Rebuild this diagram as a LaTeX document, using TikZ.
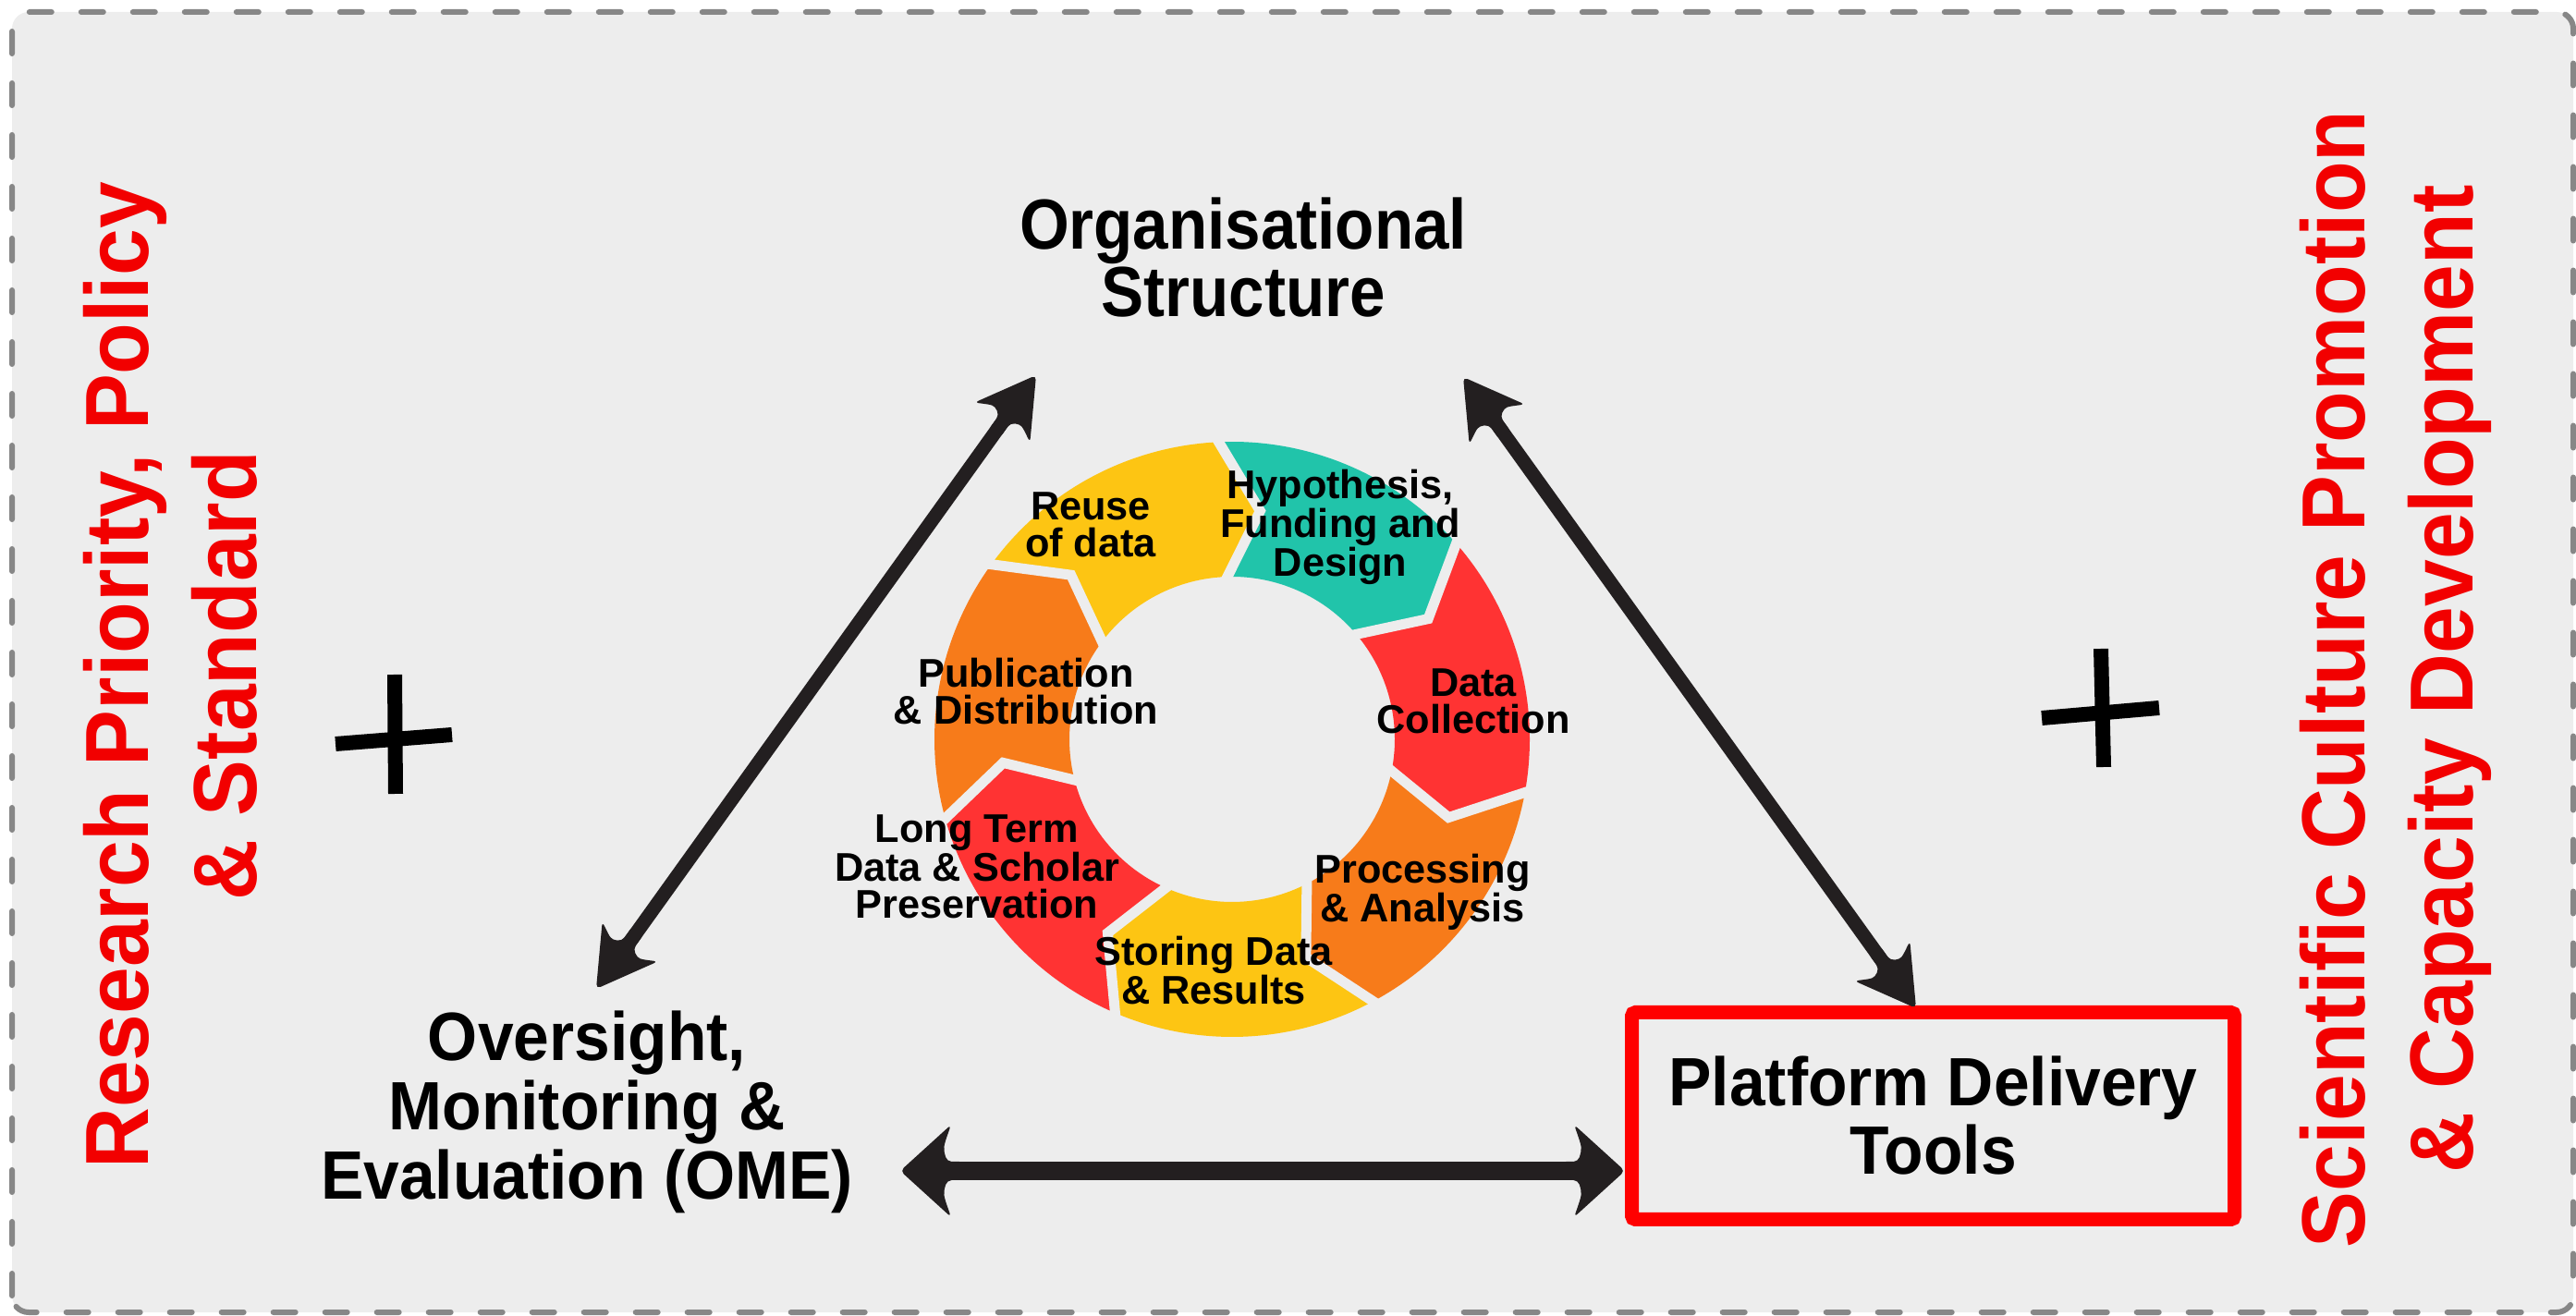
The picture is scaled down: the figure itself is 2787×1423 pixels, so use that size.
\documentclass[tikz,border=0pt]{standalone}
\usepackage{fontspec}
\setmainfont{Liberation Sans}
\newfontfamily\fBig{Liberation Sans}[FakeStretch=0.94]
\newfontfamily\fOrg{Liberation Sans}[FakeStretch=0.90]
\newfontfamily\fRing{Liberation Sans}
\definecolor{bgc}{HTML}{EDEDED}
\definecolor{bordc}{HTML}{878787}
\definecolor{arrowc}{HTML}{231F20}
\definecolor{sidered}{HTML}{F20000}
\definecolor{boxred}{HTML}{FF0000}
\definecolor{cteal}{HTML}{21C4AA}
\definecolor{cred}{HTML}{FF3333}
\definecolor{corange}{HTML}{F77B1A}
\definecolor{cyellow}{HTML}{FDC513}
\tikzset{
  sidetext/.style={text=sidered, font=\fBig\bfseries\fontsize{48.5}{58.5}\selectfont, align=center, inner sep=0pt, rotate=90, anchor=base},
  titletext/.style={text=black, align=center, inner sep=0pt, anchor=base},
  ringtext/.style={text=black, font=\fRing\bfseries\fontsize{21.65}{20}\selectfont, align=center, inner sep=0pt, anchor=base},
  plusline/.style={line width=8pt, draw=black},
  gapline/.style={draw=bgc, line width=5.5pt, line join=miter},
  shaft/.style={draw=arrowc, line width=#1},
  pics/ahead/.style n args={4}{code={
    \fill[arrowc, rounded corners=2.5pt]
      (0,0) -- ({#1*#2},{#3})
      .. controls ({#1*0.84*#2},{0.5*#3}) .. ({#1*0.92*#2},{#4})
      -- ({#1*1.25*#2},{#4}) -- ({#1*1.25*#2},{-#4}) -- ({#1*0.92*#2},{-#4})
      .. controls ({#1*0.84*#2},{-0.5*#3}) .. ({#1*#2},{-#3}) -- cycle;
  }},
}
\begin{document}
\begin{tikzpicture}[x=0.5pt,y=0.5pt]
\useasboundingbox (0,0) rectangle (2787,1423);
% frame
\draw[draw=bordc, fill=bgc, line width=3pt, dash pattern=on 12pt off 16pt, line cap=round, rounded corners=9pt] (13,3) rectangle (2784,1410);

% ring
\coordinate (ring) at (1333,623);
\begin{scope}[shift={(ring)}]
\foreach \k/\col in {0/cteal,1/cred,2/corange,3/cyellow,4/cred,5/corange,6/cyellow}{
  \pgfmathsetmacro\ta{93.5-\k*360/7}
  \pgfmathsetmacro\tb{93.5-(\k+1)*360/7}
  \pgfmathsetmacro\tat{\ta-10.5}
  \pgfmathsetmacro\tbt{\tb-10.5}
  \fill[\col] (\ta:322) arc[start angle=\ta, end angle=\tb, radius=322] -- (\tbt:249) -- (\tb:176) arc[start angle=\tb, end angle=\ta, radius=176] -- (\tat:249) -- cycle;
}
\foreach \k in {0,...,6}{
  \pgfmathsetmacro\ta{93.5-\k*360/7}
  \pgfmathsetmacro\tat{\ta-10.5}
  \draw[gapline] (\ta:332) -- (\tat:249) -- (\ta:166);
}
\end{scope}

% ring labels (anchored at the baseline of their last line)
\node[ringtext] (hyp) at (1450,799) {Hypothesis,\\Funding and\\Design};
\node[ringtext] (dc) at (1594,629) {Data\\Collection};
\node[ringtext] (pa) at (1539,425) {Processing\\\& Analysis};
\node[ringtext] (sd) at (1313,336) {Storing Data\\\& Results};
\node[ringtext] (lt) at (1057,429) {Long Term\\Data \& Scholar\\Preservation};
\node[ringtext] (pd) at (1110,639) {Publication\\\& Distribution};
\node[ringtext] (ru) at (1180,820) {Reuse\\of data};

% main labels
\node[titletext, font=\fOrg\bfseries\fontsize{38.4}{36.5}\selectfont] (org) at (1345,1080) {Organisational\\Structure};
\node[titletext, font=\fBig\bfseries\fontsize{37}{37.5}\selectfont] (ome) at (635,125) {Oversight,\\Monitoring \&\\Evaluation (OME)};
\node[draw=boxred, line width=7.5pt, rounded corners=2pt, minimum width=326pt, minimum height=112pt, inner sep=0pt, align=center, font=\fBig\bfseries\fontsize{37}{37}\selectfont] (pdt) at (2091.5,215.5) {Platform Delivery\\Tools};

% side texts
\node[sidetext] (rps) at (277,692) {Research Priority, Policy\\\& Standard};
\node[sidetext] (scp) at (2675,688) {Scientific Culture Promotion\\\& Capacity Development};

% plus signs
\draw[plusline] (427,693) -- (428,564);
\draw[plusline] (363,618) -- (489,628);
\draw[plusline] (2273,721) -- (2276,593);
\draw[plusline] (2209,646) -- (2336,657);

% arrows
\coordinate (a1) at (1121,1017);
\coordinate (a2) at (645,353);
\coordinate (b1) at (1583,1015);
\coordinate (b2) at (2073,332);
\coordinate (c1) at (974,156);
\coordinate (c2) at (pdt.west |- c1);

\draw[shaft=7.5pt, shorten <=28pt, shorten >=28pt] (a1) -- (a2);
\path (a1) -- (a2) pic[pos=0, sloped, allow upside down]{ahead={1}{63}{37}{7.5}} pic[pos=1, sloped, allow upside down]{ahead={-1}{63}{37}{7.5}};

\draw[shaft=7.5pt, shorten <=28pt, shorten >=28pt] (b1) -- (b2);
\path (b1) -- (b2) pic[pos=0, sloped, allow upside down]{ahead={1}{63}{37}{7.5}} pic[pos=1, sloped, allow upside down]{ahead={-1}{63}{37}{7.5}};

\draw[shaft=10pt, shorten <=25pt, shorten >=25pt] (c1) -- (c2);
\path (c1) -- (c2) pic[pos=0, sloped, allow upside down]{ahead={1}{55}{50}{10}} pic[pos=1, sloped, allow upside down]{ahead={-1}{55}{50}{10}};
\end{tikzpicture}
\end{document}
